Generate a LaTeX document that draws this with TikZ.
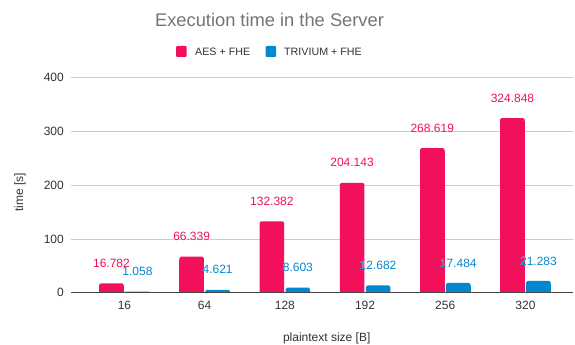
\documentclass[tikz,border=0pt]{standalone}
\usepackage{fontspec}
\setmainfont{Liberation Sans}
\usepackage[outline]{contour}
\contourlength{0.9pt}
\definecolor{aescol}{HTML}{F2105A}
\definecolor{tricol}{HTML}{0288D1}
\definecolor{titlecol}{HTML}{757575}
\definecolor{txtcol}{HTML}{333333}
\definecolor{gridcol}{HTML}{CCCCCC}
\definecolor{axiscol}{HTML}{444444}
\tikzset{
  ticklab/.style={text=txtcol,font=\fontsize{12}{14}\selectfont,inner sep=0pt},
  datalab/.style={font=\fontsize{12}{14}\selectfont,inner sep=0pt},
  leglab/.style={text=txtcol,font=\fontsize{10.7}{12}\selectfont,inner sep=0pt,anchor=base west},
  legbox/.style={rounded corners=1pt},
  gridline/.style={draw=gridcol,line width=0.8pt},
  axisline/.style={draw=axiscol,line width=1pt},
}
\begin{document}
\begin{tikzpicture}[x=1pt,y=-1pt]
\useasboundingbox (0,0) rectangle (575,345);
\fill[white] (0,0) rectangle (575,345);
% title
\node[text=titlecol,font=\fontsize{18.3}{20}\selectfont,inner sep=0pt,anchor=base] (title) at (269.5,27) {Execution time in the Server};
% legend
\fill[aescol,legbox] (176,46) rectangle (186.5,57);
\node[leglab] (legaes) at (195,55.8) {AES + FHE};
\fill[tricol,legbox] (265.5,46) rectangle (276,57);
\node[leglab] (legtri) at (284,55.8) {TRIVIUM + FHE};
% grid
\foreach \v/\y in {100/239,200/185.3,300/131.7,400/77.7}{
  \draw[gridline] (71,\y) -- (573,\y);
  \node[ticklab,anchor=east] (yl\v) at (64,\y) {\v};
}
\node[ticklab,anchor=east] (yl0) at (64,292.3) {0};
% axis titles
\node[ticklab,rotate=90] (ytitle) at (20,192.5) {time [s]};
\node[ticklab,anchor=base] (xtitle) at (326.7,341) {plaintext size [B]};
% bars
\foreach \i/\a/\t/\lab in {0/16.782/1.058/16,1/66.339/4.621/64,2/132.382/8.603/128,3/204.143/12.682/192,4/268.619/17.484/256,5/324.848/21.283/320}{
  \pgfmathsetmacro\L{99.2+80.2*\i}
  \pgfmathsetmacro\Ta{292.3-\a*0.5365}
  \pgfmathsetmacro\Tt{292.3-\t*0.5365}
  \pgfmathsetmacro\Rt{min(1.5,(292.3-\Tt)/2)}
  \pgfmathsetmacro\Bt{min(\Tt+3,292.3)}
  \fill[aescol,rounded corners=1.5pt] (\L,292.3) -- (\L,\Ta) -- (\L+24.5,\Ta) -- (\L+24.5,292.3);
  \fill[aescol] (\L,292.3) rectangle (\L+24.5,\Ta+3);
  \fill[tricol,rounded corners=\Rt pt] (\L+26,292.3) -- (\L+26,\Tt) -- (\L+50.5,\Tt) -- (\L+50.5,292.3);
  \fill[tricol] (\L+26,292.3) rectangle (\L+50.5,\Bt);
  \node[ticklab,anchor=base] (xl\i) at (\L+25.25,309.3) {\lab};
}
\draw[axisline] (71,292.3) -- (573,292.3);
% data labels
\foreach \i/\a/\t in {0/16.782/1.058,1/66.339/4.621,2/132.382/8.603,3/204.143/12.682,4/268.619/17.484,5/324.848/21.283}{
  \pgfmathsetmacro\L{99.2+80.2*\i}
  \pgfmathsetmacro\Ta{292.3-\a*0.5365-20}
  \node[datalab,text=aescol] (aes\i) at (\L+12.25,\Ta) {\contour{white}{\a}};
}
\foreach \i/\a/\t in {0/16.782/1.058,1/66.339/4.621,2/132.382/8.603,3/204.143/12.682,4/268.619/17.484,5/324.848/21.283}{
  \pgfmathsetmacro\L{99.2+80.2*\i}
  \pgfmathsetmacro\Tt{292.3-\t*0.5365-20}
  \node[datalab,text=tricol] (tri\i) at (\L+38.25,\Tt) {\contour{white}{\t}};
}
\end{tikzpicture}
\end{document}
